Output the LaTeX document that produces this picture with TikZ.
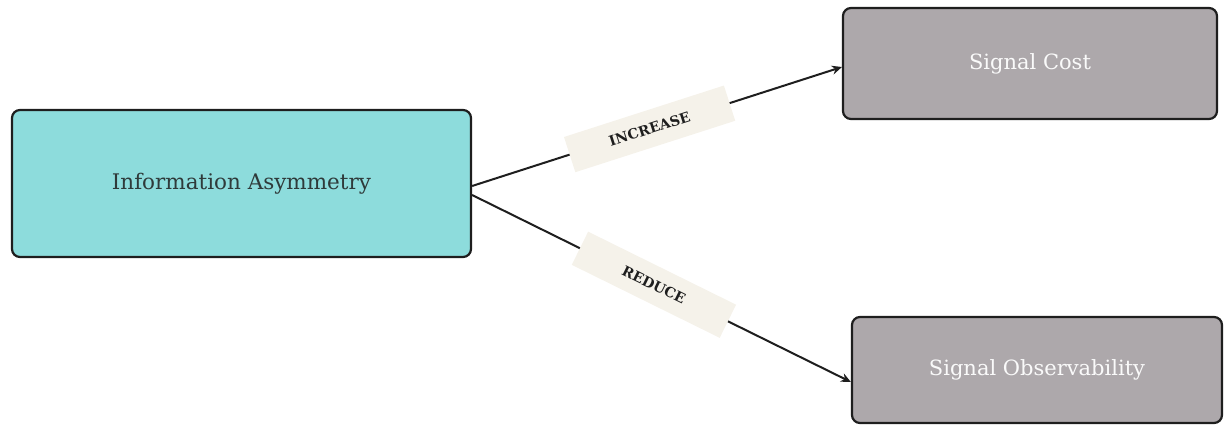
\documentclass[tikz,border=0pt]{standalone}
\usepackage{fontspec}
\setmainfont{DejaVu Serif}
\usetikzlibrary{arrows.meta}
\definecolor{teal}{HTML}{8DDCDC}
\definecolor{mauve}{HTML}{ADA8AB}
\definecolor{cream}{HTML}{F5F2EA}
\definecolor{ink}{HTML}{1E1E1E}
\tikzset{
  box/.style={draw=ink, line width=2.2pt, rounded corners=8pt, inner sep=0pt},
  srcbox/.style={box, fill=teal, text=ink!85!teal, font=\fontsize{21.5}{24}\selectfont},
  tgtbox/.style={box, fill=mauve, text=white!94!mauve, font=\fontsize{21}{24}\selectfont},
  link/.style={draw=ink, line width=2pt, -{Stealth[length=10pt,width=9pt]}},
  tag/.style={fill=cream, sloped, inner sep=0pt, minimum height=37pt,
    font=\bfseries\fontsize{14}{16}\selectfont, text=ink}
}
\begin{document}
\begin{tikzpicture}[x=1pt,y=-1pt]
\useasboundingbox (0,0) rectangle (1225,425);
\node[srcbox, minimum width=459pt, minimum height=147pt] (asym) at (241.5,183.5) {Information Asymmetry};
\node[tgtbox, minimum width=374pt, minimum height=111pt] (cost) at (1030,63.5) {Signal Cost};
\node[tgtbox, minimum width=370pt, minimum height=106pt] (obs) at (1037,370) {Signal Observability};
\draw[link] (asym.east |- 0,186) -- node[tag, pos=0.48, minimum width=168pt] {INCREASE} (cost.west |- 0,67);
\draw[link] (asym.east |- 0,195) -- node[tag, pos=0.48, minimum width=165pt] {REDUCE} (obs.west |- 0,382);
\end{tikzpicture}
\end{document}
